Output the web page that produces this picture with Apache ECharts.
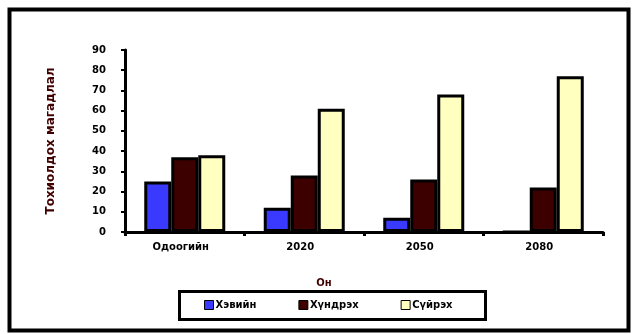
<!DOCTYPE html>
<html>
<head>
<meta charset="utf-8">
<script src="https://cdn.jsdelivr.net/npm/echarts@6/dist/echarts.min.js"></script>
<style>
  html, body { margin: 0; padding: 0; background: #ffffff; }
  #chart { width: 633px; height: 334px; }
</style>
</head>
<body>
<div id="chart"></div>
<script>
// Categories (years) and scenario shares, %
const categories = ['Одоогийн', '2020', '2050', '2080'];
const seriesNames = ['Хэвийн', 'Хүндрэх', 'Сүйрэх'];
const normalValues = [25, 12, 7, 0];
const worseValues = [37, 28, 26, 22];
const severeValues = [38, 61, 68, 77];
const yTicks = [0, 10, 20, 30, 40, 50, 60, 70, 80, 90];

const FONT = 'DejaVu Sans';
const colors = ['#3a3aff', '#3c0000', '#ffffc0'];
const valueSets = [normalValues, worseValues, severeValues];

const chart = echarts.init(document.getElementById('chart'));

const series = seriesNames.map((name, i) => ({
  name: name,
  type: 'bar',
  data: valueSets[i],
  barWidth: 27,
  barGap: '0%',
  itemStyle: { color: colors[i], borderColor: '#000', borderWidth: 3 }
}));

chart.setOption({
  backgroundColor: '#ffffff',
  animation: false,
  grid: { left: 125, right: 30, top: 50, bottom: 102 },
  xAxis: {
    type: 'category',
    data: categories,
    axisLine: { lineStyle: { color: '#000', width: 3 } },
    axisTick: { show: true, length: 4, lineStyle: { color: '#000', width: 3 } },
    axisLabel: {
      color: '#000', fontFamily: FONT, fontWeight: 'bold', fontSize: 10, margin: 10,
      padding: [0, 8, 0, 0]
    }
  },
  yAxis: {
    type: 'value',
    min: yTicks[0],
    max: yTicks[yTicks.length - 1],
    interval: 10,
    splitLine: { show: false },
    axisLine: { show: true, lineStyle: { color: '#000', width: 3 } },
    axisTick: { show: true, length: 4, lineStyle: { color: '#000', width: 2 } },
    axisLabel: { color: '#000', fontFamily: FONT, fontWeight: 'bold', fontSize: 10, margin: 19 },
    name: 'Тохиолдох магадлал',
    nameLocation: 'middle',
    nameRotate: 90,
    nameGap: 68,
    nameTextStyle: { color: '#400000', fontFamily: FONT, fontWeight: 'bold', fontSize: 12 }
  },
  legend: {
    data: seriesNames,
    left: 204,
    top: 300,
    itemGap: 42,
    itemWidth: 9,
    itemHeight: 9,
    icon: 'rect',
    padding: 0,
    itemStyle: { borderColor: '#000', borderWidth: 1 },
    textStyle: { color: '#000', fontFamily: FONT, fontWeight: 'bold', fontSize: 10, padding: [0, 0, 0, -3] }
  },
  graphic: [
    {
      type: 'rect',
      shape: { x: 9.5, y: 9.5, width: 619, height: 321 },
      style: { fill: null, stroke: '#000', lineWidth: 4 },
      silent: true
    },
    {
      type: 'rect',
      shape: { x: 179.5, y: 291.5, width: 306, height: 28 },
      style: { fill: null, stroke: '#000', lineWidth: 3 },
      silent: true
    },
    {
      type: 'text',
      x: 324,
      y: 283,
      style: {
        text: 'Он',
        fill: '#400000',
        font: 'bold 10px "DejaVu Sans"',
        textAlign: 'center',
        textVerticalAlign: 'middle'
      },
      silent: true
    }
  ],
  series: series
});
</script>
</body>
</html>
